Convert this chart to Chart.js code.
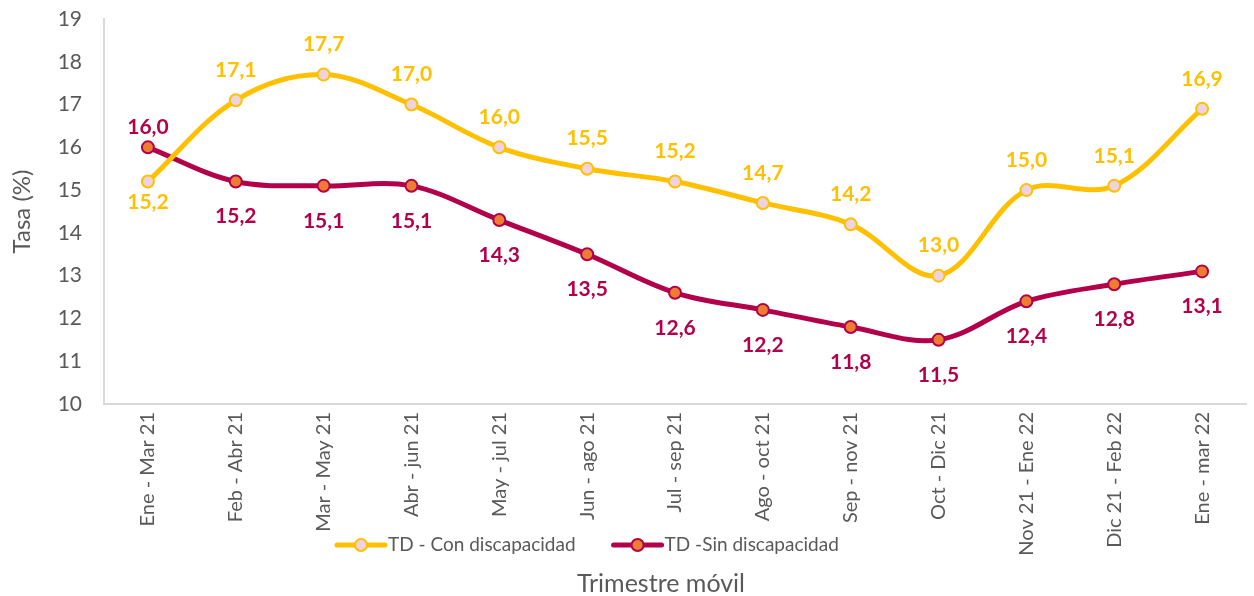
<!DOCTYPE html>
<html>
<head>
<meta charset="utf-8">
<script src="https://cdn.jsdelivr.net/npm/chart.js@4/dist/chart.umd.min.js"></script>
<style>
    html, body { margin: 0; padding: 0; background: #fff; }
    #wrap { width: 1254px; height: 596px; }
</style>
</head>
<body>
<div id="wrap"><canvas id="tasaChart"></canvas></div>
<script>
const trimestres = ['Ene - Mar 21', 'Feb - Abr 21', 'Mar - May 21', 'Abr - jun 21', 'May - jul 21', 'Jun - ago 21',
    'Jul - sep 21', 'Ago - oct 21', 'Sep - nov 21', 'Oct - Dic 21', 'Nov 21 - Ene 22', 'Dic 21 - Feb 22', 'Ene - mar 22'];
const conDiscapacidad = [15.2, 17.1, 17.7, 17.0, 16.0, 15.5, 15.2, 14.7, 14.2, 13.0, 15.0, 15.1, 16.9];
const sinDiscapacidad = [16.0, 15.2, 15.1, 15.1, 14.3, 13.5, 12.6, 12.2, 11.8, 11.5, 12.4, 12.8, 13.1];
const yTicks = [10, 11, 12, 13, 14, 15, 16, 17, 18, 19];

const FONT = 'Lato, "Liberation Sans", sans-serif';
const GRIS = '#595959';
const AMARILLO = '#FFC000';
const GUINDA = '#B3004B';

// etiquetas de datos: arriba si la serie es la mayor en ese punto, abajo si no
// (más pegadas al punto cuando las dos series están muy juntas)
const etiquetas = {
    id: 'etiquetas',
    afterDatasetsDraw(chart) {
        const ctx = chart.ctx;
        ctx.save();
        ctx.font = 'bold 21px ' + FONT;
        ctx.textAlign = 'center';
        ctx.textBaseline = 'middle';
        chart.data.datasets.forEach((ds, i) => {
            const otra = chart.data.datasets[1 - i].data;
            chart.getDatasetMeta(i).data.forEach((pt, j) => {
                const arriba = ds.data[j] > otra[j];
                const cerca = Math.abs(ds.data[j] - otra[j]) < 1;
                const dy = arriba ? (cerca ? -20 : -30) : (cerca ? 21 : 35);
                ctx.fillStyle = ds.borderColor;
                ctx.fillText(ds.data[j].toFixed(1).replace('.', ','), pt.x, pt.y + dy);
            });
        });
        ctx.restore();
    }
};

// leyenda y título del eje x en su posición original (sobre la zona de etiquetas)
const leyenda = {
    id: 'leyenda',
    afterDraw(chart) {
        const ctx = chart.ctx;
        ctx.save();
        let x = 337;
        const y = 545;
        chart.data.datasets.forEach(ds => {
            ctx.strokeStyle = ds.borderColor;
            ctx.lineWidth = 5;
            ctx.lineCap = 'round';
            ctx.beginPath();
            ctx.moveTo(x, y);
            ctx.lineTo(x + 48, y);
            ctx.stroke();
            ctx.beginPath();
            ctx.arc(x + 24, y, 6, 0, Math.PI * 2);
            ctx.fillStyle = ds.pointBackgroundColor;
            ctx.fill();
            ctx.lineWidth = 2;
            ctx.stroke();
            ctx.font = '19px ' + FONT;
            ctx.fillStyle = GRIS;
            ctx.textAlign = 'left';
            ctx.textBaseline = 'middle';
            ctx.fillText(ds.label, x + 51, y);
            x += 51 + ctx.measureText(ds.label).width + 38;
        });
        ctx.font = '25px ' + FONT;
        ctx.textAlign = 'center';
        ctx.fillText('Trimestre móvil', 661, 584);
        ctx.restore();
    }
};

new Chart(document.getElementById('tasaChart'), {
    type: 'line',
    data: {
        labels: trimestres,
        datasets: [
            {
                label: 'TD - Con discapacidad',
                data: conDiscapacidad,
                borderColor: AMARILLO,
                backgroundColor: AMARILLO,
                pointBackgroundColor: '#EED3DF',
                pointBorderColor: AMARILLO,
                borderWidth: 5,
                pointRadius: 6,
                pointBorderWidth: 2,
                tension: 0.35
            },
            {
                label: 'TD -Sin discapacidad',
                data: sinDiscapacidad,
                borderColor: GUINDA,
                backgroundColor: GUINDA,
                pointBackgroundColor: '#ED7D31',
                pointBorderColor: GUINDA,
                borderWidth: 5,
                pointRadius: 6,
                pointBorderWidth: 2,
                tension: 0.35
            }
        ]
    },
    options: {
        responsive: true,
        maintainAspectRatio: false,
        animation: false,
        layout: { padding: { top: 0, right: 2, left: 0, bottom: 0 } },
        plugins: { legend: { display: false }, tooltip: { enabled: false } },
        scales: {
            x: {
                offset: true,
                grid: { display: false, drawTicks: false },
                border: { color: '#D9D9D9', width: 2 },
                ticks: {
                    color: GRIS, font: { family: FONT, size: 20 },
                    minRotation: 90, maxRotation: 90, autoSkip: false, padding: 8
                },
                afterFit(scale) { scale.height = 192; }
            },
            y: {
                min: 10, max: 19,
                afterBuildTicks(scale) { scale.ticks = yTicks.map(v => ({ value: v })); },
                grid: { display: false, drawTicks: false },
                border: { color: '#D9D9D9', width: 2 },
                ticks: { color: GRIS, font: { family: FONT, size: 21 }, padding: 22 },
                title: { display: true, text: 'Tasa (%)', color: GRIS, font: { family: FONT, size: 24 }, padding: { top: 8, bottom: 0 } },
                afterFit(scale) {
                    scale.width = 104;
                    scale.paddingTop = 19;
                }
            }
        }
    },
    plugins: [etiquetas, leyenda]
});
</script>
</body>
</html>
